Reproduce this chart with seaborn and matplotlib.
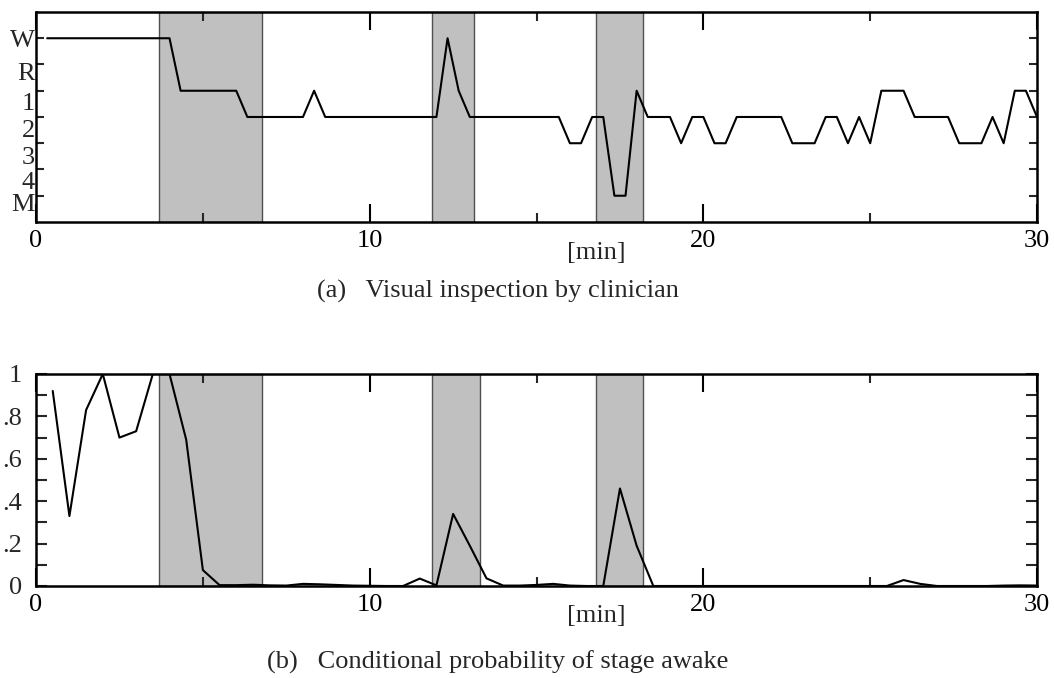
import numpy as np
import pandas as pd
import matplotlib
matplotlib.use("Agg")
import matplotlib.pyplot as plt
import matplotlib.ticker as mticker
import matplotlib.transforms as mtransforms
import seaborn as sns

sns.set_theme(style="ticks")
plt.rcParams['font.family'] = ['Liberation Serif', 'DejaVu Serif']

# --- data ---
# (a) hypnogram, one epoch every 20 s (M=0, 4=1, 3=2, 2=3, 1=4, R=5, W=6)
stage_t = np.arange(1, 91) / 3.0
stage_val = ([6] * 12 + [4] * 6 + [3] * 6 + [4] + [3] * 11 + [6] + [4] + [3] * 9
             + [2, 2, 3, 3, 0, 0, 4, 3, 3, 3, 2, 3, 3, 2, 2] + [3] * 5 + [2] * 3
             + [3, 3, 2, 3, 2, 4, 4, 4, 3, 3, 3, 3, 2, 2, 2, 3, 2, 4, 4, 3])
stage_ticks = [0, 1, 2, 3, 4, 5, 6]
stage_labels = ['M', '4', '3', '2', '1', 'R', 'W']

# (b) conditional probability of stage awake, every 30 s
prob_t = np.arange(1, 61) * 0.5
prob_val = [0.92, 0.33, 0.83, 1.0, 0.70, 0.73, 1.0, 1.0, 0.69, 0.075,
            0.004, 0.004, 0.006, 0.003, 0.002, 0.010, 0.008, 0.005, 0.002, 0.001,
            0.0, 0.0, 0.035, 0.003, 0.34, 0.19, 0.036, 0.002, 0.002, 0.005,
            0.010, 0.002, 0.0, 0.0, 0.46, 0.19, 0.0, 0.0, 0.0, 0.0,
            0.0, 0.0, 0.0, 0.0, 0.0, 0.0, 0.0, 0.0, 0.0, 0.0,
            0.0, 0.028, 0.010, 0.0, 0.0, 0.0, 0.0, 0.002, 0.003, 0.002]
prob_ticks = [0, 0.2, 0.4, 0.6, 0.8, 1.0]
prob_labels = ['0', '.2', '.4', '.6', '.8', '1']

# shaded intervals [min]
bands_a = [(3.68, 6.76), (11.86, 13.13), (16.77, 18.2)]
bands_b = [(3.68, 6.76), (11.86, 13.3), (16.77, 18.2)]

x_ticks = [0, 10, 20, 30]

fig = plt.figure(figsize=(10.54, 6.78), dpi=100)
ax_a = fig.add_axes([0.0342, 0.6726, 0.9497, 0.3097])
ax_b = fig.add_axes([0.0342, 0.1357, 0.9497, 0.3127])

fs = 19


def style_axis(ax, bands):
    for lo, hi in bands:
        ax.axvspan(lo, hi, facecolor='#c0c0c0', edgecolor='#505050', lw=1.0, zorder=0)
    ax.set_xlim(0, 30)
    ax.set_xticks(x_ticks)
    ax.set_xticklabels([str(t) for t in x_ticks])
    ax.xaxis.set_minor_locator(mticker.MultipleLocator(5))
    ax.tick_params(axis='x', which='major', direction='in', length=13, width=1.5,
                   top=True, bottom=True, labelsize=fs, pad=6, colors='black')
    ax.tick_params(axis='x', which='minor', direction='in', length=6.5, width=1.5,
                   top=True, bottom=True)
    for s in ax.spines.values():
        s.set_linewidth(1.8)
        s.set_color('black')
    ax.set_xlabel('')
    ax.set_ylabel('')


# (a)
sns.lineplot(x=stage_t, y=stage_val, ax=ax_a, color='black', lw=1.5, zorder=3)
style_axis(ax_a, bands_a)
ax_a.set_ylim(-1, 7)
ax_a.set_yticks(stage_ticks)
ax_a.set_yticklabels(stage_labels)
ax_a.tick_params(axis='y', direction='in', length=6, width=1.5, left=True, right=True,
                 labelsize=fs, pad=1)
# the stage letters sit a little below their ticks in the original
drops = [5, 8, 8.5, 8, 7.5, 5, 0]
for lab, d in zip(ax_a.get_yticklabels(), drops):
    lab.set_transform(lab.get_transform()
                      + mtransforms.ScaledTranslation(0, -d / 72, fig.dpi_scale_trans))

# (b)
sns.lineplot(x=prob_t, y=prob_val, ax=ax_b, color='black', lw=1.5, zorder=3)
style_axis(ax_b, bands_b)
ax_b.set_ylim(0, 1)
ax_b.set_yticks(prob_ticks)
ax_b.set_yticklabels(prob_labels)
ax_b.yaxis.set_minor_locator(mticker.MultipleLocator(0.1))
ax_b.tick_params(axis='y', which='both', direction='in', length=8, width=1.5,
                 left=True, right=True, labelsize=fs, pad=10)

# axis unit labels and captions
fig.text(0.566, 1 - 253 / 678, '[min]', ha='center', va='center', fontsize=fs)
fig.text(0.566, 1 - 616 / 678, '[min]', ha='center', va='center', fontsize=fs)
fig.text(0.472, 1 - 291 / 678, '(a)   Visual inspection by clinician',
         ha='center', va='center', fontsize=fs)
fig.text(0.472, 1 - 662 / 678, '(b)   Conditional probability of stage awake',
         ha='center', va='center', fontsize=fs)

fig.savefig('out.png', dpi=100)
